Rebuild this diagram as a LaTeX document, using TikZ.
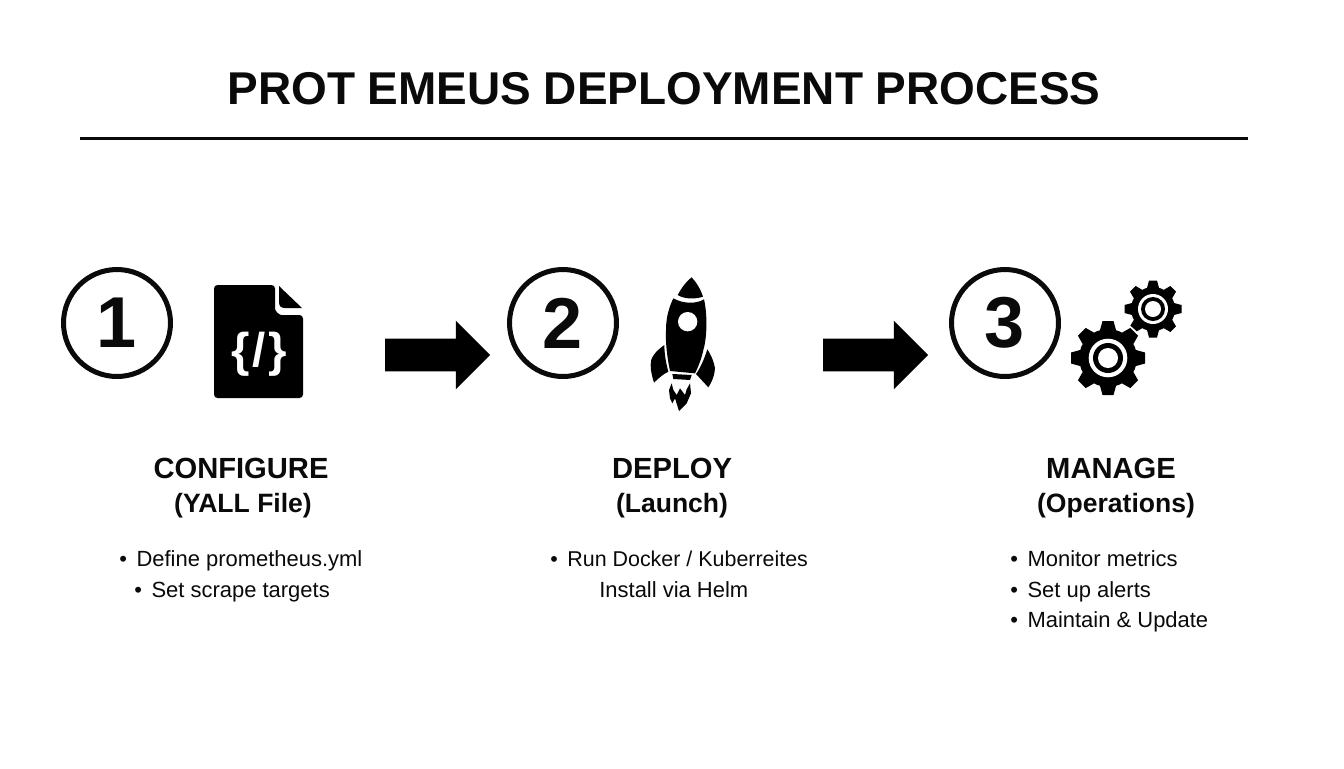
\documentclass[tikz,border=0pt]{standalone}
\usepackage{fontspec}
\setmainfont{Liberation Sans}
\usetikzlibrary{shapes}
\definecolor{inkblack}{HTML}{0A0A0A}
\tikzstyle{maintitle} = [font=\bfseries\fontsize{26.15}{34}\selectfont, text=inkblack, inner sep=0pt]
\tikzstyle{stepring} = [circle, draw=inkblack, line width=2.85pt, minimum size=2.14cm, inner sep=0pt, font=\bfseries\fontsize{41}{48}\selectfont, text=inkblack]
\tikzstyle{steparrow} = [single arrow, fill=black, inner xsep=0pt, inner ysep=0.32cm, minimum height=2.1cm, single arrow head extend=0.36cm]
\tikzstyle{stephead} = [font=\bfseries\fontsize{16.6}{20}\selectfont, text=inkblack, inner sep=0pt]
\tikzstyle{stepsub} = [font=\bfseries\fontsize{15.1}{20}\selectfont, text=inkblack, inner sep=0pt]
\tikzstyle{stepitem} = [font=\fontsize{12.5}{15}\selectfont, text=inkblack, anchor=base west, inner sep=0pt]
\newcommand{\itemdot}{\textbullet\hspace{0.19cm}}
\newcommand{\gearicon}[6]{
  \begin{scope}[shift={(#1,#2)}]
    \fill [black] (0,0) circle [radius=#4];
    \foreach \a in {0,45,...,315}
      \fill [black, rotate=\a] (-#5,-#4+1) -- (-#6,-#3) -- (#6,-#3) -- (#5,-#4+1) -- cycle;
  \end{scope}
}

\begin{document}
\begin{tikzpicture}[x=0.02cm, y=-0.02cm]
\useasboundingbox [fill=white] (0,0) rectangle (1344,768);

\node at (664,89) (title) [maintitle] {PROT EMEUS DEPLOYMENT PROCESS};
\draw [line width=0.06cm, inkblack] (80,138) -- (1248,138);

% step numbers
\node at (117,323) (ringone) [stepring] {\raisebox{-1.5pt}{1}};
\node at (563,323) (ringtwo) [stepring] {\raisebox{-1.5pt}{2}};
\node at (1005,323) (ringthree) [stepring] {\raisebox{-1.5pt}{3}};

% file icon
\fill [black, rounded corners=2pt] (214,285) -- (275,285) -- (275,305) .. controls (275,311) and (279,315) .. (285,315) -- (303,315) -- (303,398) -- (214,398) -- cycle;
\fill [black] (279,286) -- (302,308) -- (285,308) .. controls (281,308) and (279,306) .. (279,302) -- cycle;
\node at (259,354) (codemark) [font=\bfseries\fontsize{27}{30}\selectfont, text=white, inner sep=0pt] {\{\hspace{1.4pt}/\hspace{1.4pt}\}};

% rocket icon
\begin{scope}[shift={(630,270)}, x=0.00667cm, y=-0.00667cm]
\fill [black] (185,22) .. controls (165,38) and (152,58) .. (143,75) .. controls (165,88) and (195,88) .. (219,80) .. controls (212,58) and (200,38) .. (185,22) -- cycle;
\fill [black] (130,85) .. controls (160,102) and (200,102) .. (222,88) .. controls (232,130) and (232,200) .. (220,240) .. controls (215,265) and (205,290) .. (195,310) -- (120,303) .. controls (112,265) and (106,220) .. (108,180) .. controls (108,140) and (118,110) .. (130,85) -- cycle;
\fill [white] (173,155) circle [radius=29];
\fill [black] (103,225) .. controls (75,245) and (60,265) .. (62,285) .. controls (62,305) and (68,325) .. (72,338) .. controls (85,325) and (100,312) .. (115,305) .. controls (108,280) and (103,250) .. (103,225) -- cycle;
\fill [black] (232,238) .. controls (222,270) and (210,295) .. (198,312) -- (235,352) .. controls (250,330) and (258,300) .. (253,285) .. controls (248,265) and (240,250) .. (232,238) -- cycle;
\fill [black] (127,312) -- (185,315) -- (180,330) -- (130,327) -- cycle;
\fill [black] (125,340) -- (117,360) -- (120,385) -- (127,400) -- (135,385) -- (147,423) -- (170,400) -- (183,370) -- (180,340) -- (170,358) -- (165,375) -- (150,355) -- (140,375) -- (130,360) -- cycle;
\end{scope}

% gear icons
\gearicon{1153}{309}{28.5}{22}{6}{4}
\fill [white] (1108,358) circle [radius=39];
\gearicon{1108}{358}{37}{29}{8}{5.5}
\fill [white] (1108,358) circle [radius=19.3];
\fill [black] (1108,358) circle [radius=15];
\fill [white] (1108,358) circle [radius=10];
\fill [white] (1153,309) circle [radius=15];
\fill [black] (1153,309) circle [radius=12];
\fill [white] (1153,309) circle [radius=8];

% arrows between the steps
\node at (429.5,355) (arrowone) [steparrow] {};
\node at (867.5,355) (arrowtwo) [steparrow] {};

% step one
\node at (241,468) (headone) [stephead] {CONFIGURE};
\node at (243,506) (subone) [stepsub] {(YALL File)};
\node at (119,566) (itemonea) [stepitem] {\itemdot Define prometheus.yml};
\node at (134,597) (itemoneb) [stepitem] {\itemdot Set scrape targets};

% step two
\node at (672,468) (headtwo) [stephead] {DEPLOY};
\node at (672,506) (subtwo) [stepsub] {(Launch)};
\node at (550,566) (itemtwoa) [stepitem, font=\fontsize{12.2}{15}\selectfont] {\itemdot Run Docker / Kuberreites};
\node at (599,597) (itemtwob) [stepitem] {Install via Helm};

% step three
\node at (1111,468) (headthree) [stephead] {MANAGE};
\node at (1116,506) (subthree) [stepsub] {(Operations)};
\node at (1010,566) (itemthreea) [stepitem] {\itemdot Monitor metrics};
\node at (1010,597) (itemthreeb) [stepitem] {\itemdot Set up alerts};
\node at (1010,627) (itemthreec) [stepitem] {\itemdot Maintain \& Update};

\end{tikzpicture}
\end{document}
